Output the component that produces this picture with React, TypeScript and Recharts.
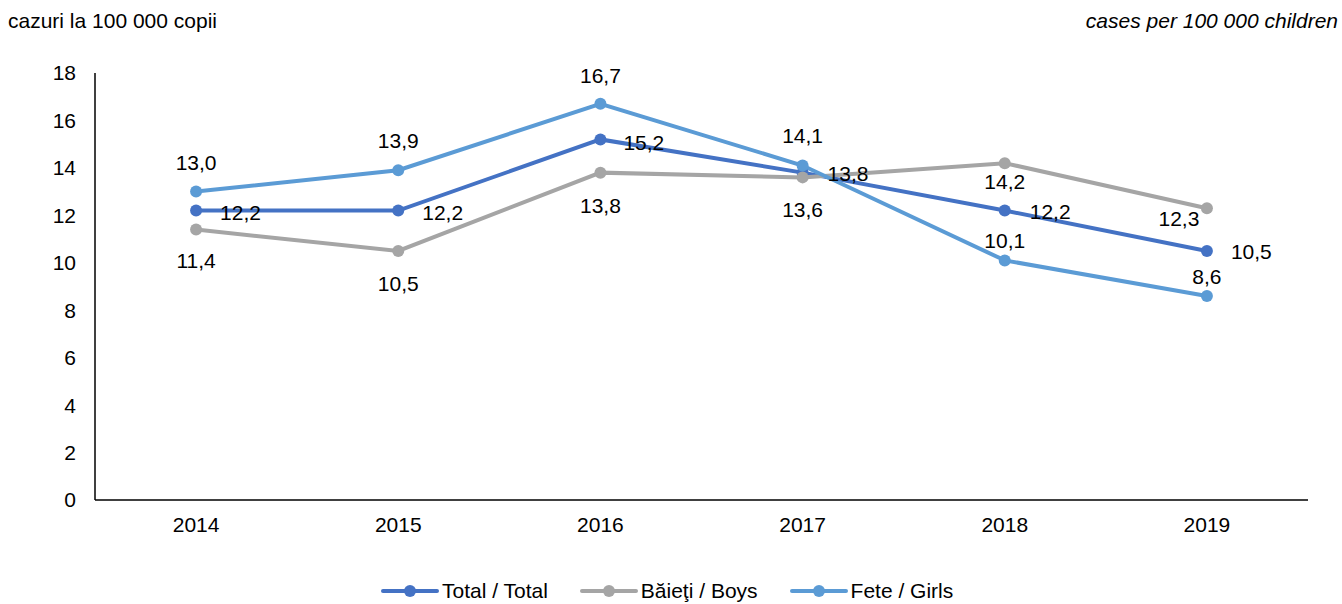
import { LineChart, Line, XAxis, YAxis, LabelList } from "recharts";

const years = ["2014", "2015", "2016", "2017", "2018", "2019"];
const totalValues = [12.2, 12.2, 15.2, 13.8, 12.2, 10.5];
const boysValues = [11.4, 10.5, 13.8, 13.6, 14.2, 12.3];
const girlsValues = [13.0, 13.9, 16.7, 14.1, 10.1, 8.6];
const yTicks = [0, 2, 4, 6, 8, 10, 12, 14, 16, 18];

const FONT = "'Liberation Sans', Arial, sans-serif";
const FS = 21;

const COLORS = {
  total: "#4472C4",
  boys: "#A5A5A5",
  girls: "#5B9BD5",
};

const SERIES = [
  { key: "total", name: "Total / Total", color: COLORS.total },
  { key: "boys", name: "Băieţi / Boys", color: COLORS.boys },
  { key: "girls", name: "Fete / Girls", color: COLORS.girls },
];

// label offsets relative to each point (Excel style placement)
const labelOffsets: Record<string, [number, number, string][]> = {
  total: [
    [24, 2, "start"],
    [24, 2, "start"],
    [23, 3, "start"],
    [25, 1, "start"],
    [25, 1, "start"],
    [24, 1, "start"],
  ],
  boys: [
    [0, 31, "middle"],
    [0, 33, "middle"],
    [0, 33, "middle"],
    [0, 32, "middle"],
    [0, 18, "middle"],
    [-28, 10, "middle"],
  ],
  girls: [
    [0, -29, "middle"],
    [0, -30, "middle"],
    [0, -28, "middle"],
    [0, -30, "middle"],
    [0, -20, "middle"],
    [0, -19, "middle"],
  ],
};

const data = years.map((year, i) => ({
  year,
  total: totalValues[i],
  boys: boysValues[i],
  girls: girlsValues[i],
}));

const fmt = (v: number) => v.toFixed(1).replace(".", ",");

function makeLabel(seriesKey: string) {
  return (props: any) => {
    const { x, y, value, index } = props;
    const [dx, dy, anchor] = labelOffsets[seriesKey][index];
    return (
      <text
        x={x + dx}
        y={y + dy}
        textAnchor={anchor}
        dominantBaseline="central"
        fontFamily={FONT}
        fontSize={FS}
        fill="#000"
      >
        {fmt(value)}
      </text>
    );
  };
}

function ChartLegend() {
  return (
    <div
      style={{
        position: "absolute",
        left: 381,
        top: 579,
        display: "flex",
        alignItems: "center",
      }}
    >
      {SERIES.map((s) => (
        <div key={s.key} style={{ display: "flex", alignItems: "center", marginRight: 32 }}>
          <svg width={58} height={14}>
            <line x1={2} y1={7} x2={56} y2={7} stroke={s.color} strokeWidth={4} strokeLinecap="round" />
            <circle cx={29} cy={7} r={6} fill={s.color} />
          </svg>
          <span style={{ fontFamily: FONT, fontSize: FS, color: "#000", marginLeft: 3, lineHeight: "24px" }}>
            {s.name}
          </span>
        </div>
      ))}
    </div>
  );
}

export default function App() {
  return (
    <div
      style={{
        position: "absolute",
        left: 0,
        top: 0,
        width: 1342,
        height: 604,
        background: "#fff",
        fontFamily: FONT,
      }}
    >
      <div style={{ position: "absolute", left: 8, top: 9, fontSize: FS, color: "#000" }}>
        cazuri la 100 000 copii
      </div>
      <div
        style={{
          position: "absolute",
          right: 4,
          top: 9,
          fontSize: FS,
          fontStyle: "italic",
          color: "#000",
        }}
      >
        cases per 100 000 children
      </div>
      <LineChart
        width={1342}
        height={604}
        data={data}
        margin={{ top: 73, right: 34, bottom: 0, left: 0 }}
      >
        <XAxis
          dataKey="year"
          scale="band"
          height={104}
          tickLine={false}
          axisLine={{ stroke: "#000", strokeWidth: 1.5 }}
          tick={{ fill: "#000", fontSize: FS, fontFamily: FONT }}
          tickMargin={11}
        />
        <YAxis
          width={95}
          domain={[0, 18]}
          ticks={yTicks}
          interval={0}
          tickLine={false}
          axisLine={{ stroke: "#000", strokeWidth: 1.5 }}
          tick={{ fill: "#000", fontSize: FS, fontFamily: FONT }}
          tickMargin={13}
        />
        {SERIES.map((s) => (
          <Line
            key={s.key}
            type="linear"
            dataKey={s.key}
            name={s.name}
            stroke={s.color}
            strokeWidth={4}
            dot={{ r: 6, fill: s.color, stroke: s.color, strokeWidth: 0 }}
            activeDot={false}
            isAnimationActive={false}
          >
            <LabelList dataKey={s.key} content={makeLabel(s.key)} />
          </Line>
        ))}
      </LineChart>
      <ChartLegend />
    </div>
  );
}
